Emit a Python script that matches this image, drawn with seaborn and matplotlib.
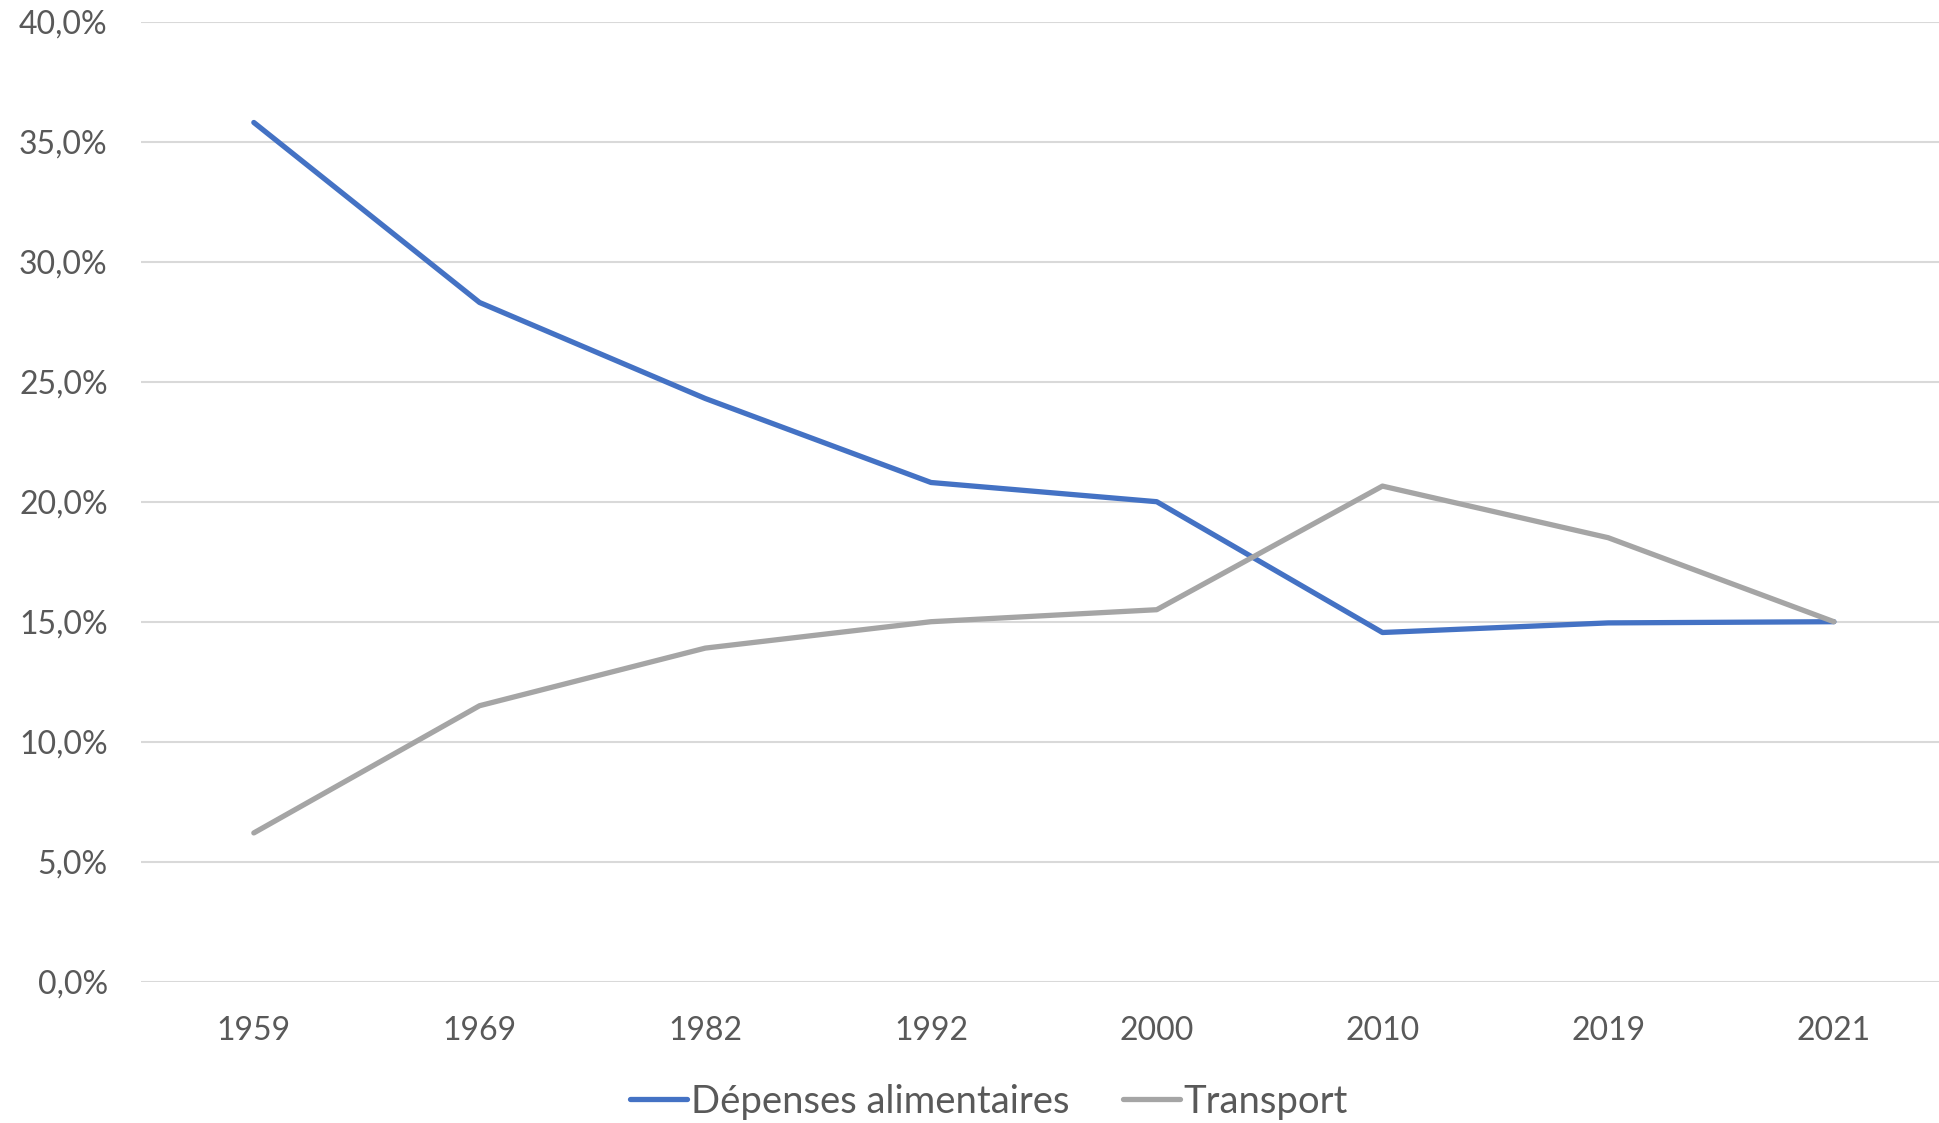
import pandas as pd
import numpy as np
import matplotlib
matplotlib.use("Agg")
import matplotlib.pyplot as plt
import seaborn as sns
from matplotlib.ticker import FuncFormatter, MultipleLocator

# ---- data (share of household budget, %) ----
years = ["1959", "1969", "1982", "1992", "2000", "2010", "2019", "2021"]
food = [35.8, 28.3, 24.3, 20.8, 20.0, 14.55, 14.95, 15.0]
transport = [6.2, 11.5, 13.9, 15.0, 15.5, 20.65, 18.5, 15.0]
series_names = ["Dépenses alimentaires", "Transport"]
colors = ["#4472C4", "#A5A5A5"]

df = pd.DataFrame({
    "Année": years * 2,
    "Part": food + transport,
    "Poste": [series_names[0]] * len(years) + [series_names[1]] * len(years),
})

sns.set_style("white")
plt.rcParams["font.family"] = ["Lato", "DejaVu Sans"]

fig = plt.figure(figsize=(19.39, 11.23), dpi=100)
ax = fig.add_axes([0.0727, 0.1258, 0.9313, 0.8549])

sns.lineplot(data=df, x="Année", y="Part", hue="Poste", palette=colors,
             sort=False, linewidth=3.8, ax=ax, legend=False)
for line in ax.get_lines():
    line.set_solid_capstyle("round")

ax.set_xlim(-0.5, len(years) - 0.5)
ax.set_ylim(0, 40)
ax.yaxis.set_major_locator(MultipleLocator(5))
ax.yaxis.set_major_formatter(FuncFormatter(lambda v, p: f"{v:.1f}%".replace(".", ",")))
ax.grid(axis="y", color="#D9D9D9", linewidth=1.5)
ax.set_axisbelow(True)
for s in ax.spines.values():
    s.set_visible(False)
ax.set_xlabel("")
ax.set_ylabel("")
ax.tick_params(axis="y", length=0, pad=24, labelsize=23, labelcolor="#595959")
ax.tick_params(axis="x", length=0, pad=25, labelsize=23, labelcolor="#595959")

# legend
handles = [plt.Line2D([], [], color=c, linewidth=3.8, solid_capstyle="round") for c in colors]
fig.legend(handles, series_names, loc="center", bbox_to_anchor=(0.51, 0.019),
           ncol=2, frameon=False, fontsize=27.5, labelcolor="#595959",
           handlelength=1.5, handletextpad=0.1, columnspacing=1.4)

fig.savefig("out.png", dpi=100)
